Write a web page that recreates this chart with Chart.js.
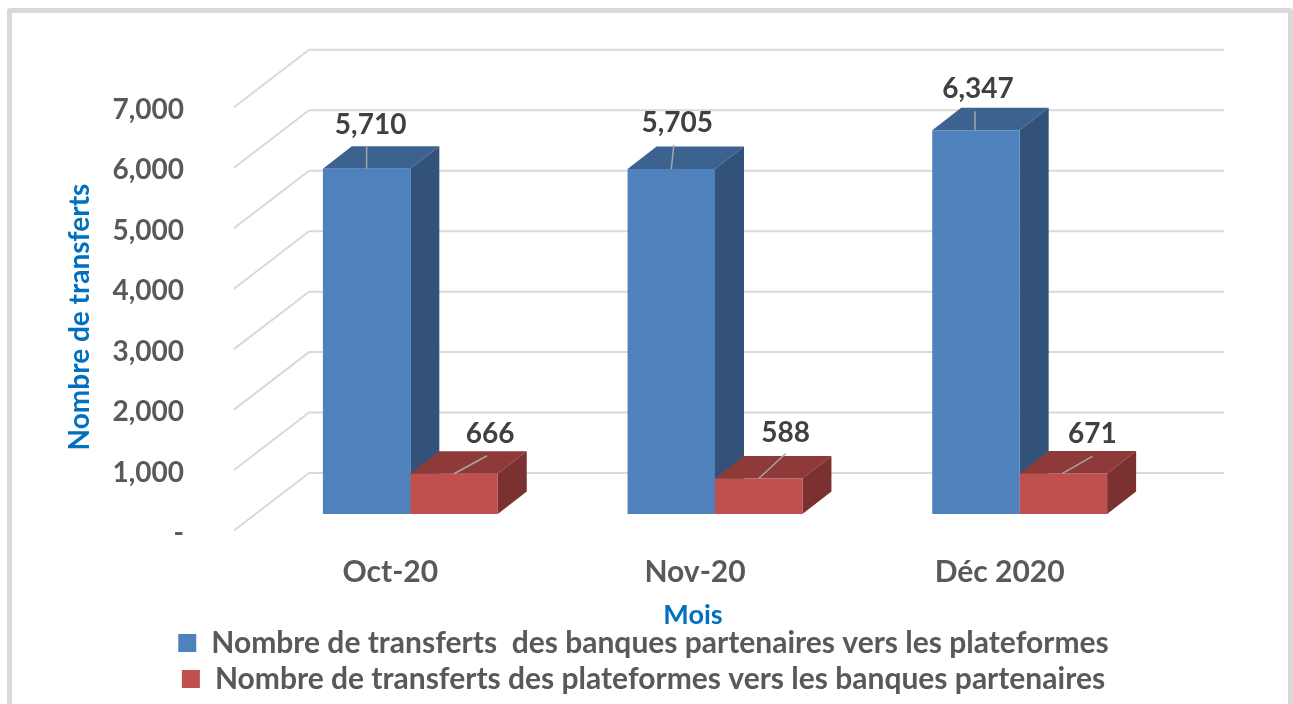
<!DOCTYPE html>
<html>
<head>
<meta charset="utf-8">
<script src="https://cdn.jsdelivr.net/npm/chart.js@4"></script>
<style>
  html, body { margin: 0; background: #fff; overflow: hidden; }
  #frame { position: absolute; left: 7px; top: 8px; width: 1276px; height: 720px; border: 5px solid #d9d9d9; border-radius: 3px; }
  #wrap { position: absolute; left: 0; top: 0; width: 1293px; height: 704px; }
</style>
</head>
<body>
<div id="frame"></div>
<div id="wrap"><canvas id="chart"></canvas></div>
<script>
const months = ['Oct-20', 'Nov-20', 'Déc 2020'];
const banksToPlatforms = [5710, 5705, 6347];
const platformsToBanks = [666, 588, 671];
const yTickLabels = ['-', '1,000', '2,000', '3,000', '4,000', '5,000', '6,000', '7,000'];
const seriesNames = [
  'Nombre de transferts  des banques partenaires vers les plateformes',
  'Nombre de transferts des plateformes vers les banques partenaires'
];

const FONT = 'Lato, Carlito, sans-serif';
const faceColors = [
  { front: '#4f81bd', top: '#3c6290', side: '#325279' },
  { front: '#c0504d', top: '#8e3a38', side: '#7b312f' }
];
const DEPTH_X = 29, DEPTH_Y = 22.5;

// hand placed value labels and their leader lines, relative to the bar's top centre
const labelPlacement = [
  [{ dx: 4, dy: -44, x1: 0, y1: -23, x2: 0, y2: 0 },
   { dx: 6, dy: -46, x1: 2.5, y1: -24, x2: 0, y2: 0 },
   { dx: 2, dy: -41, x1: -1, y1: -19, x2: -1, y2: 0 }],
  [{ dx: 36, dy: -40, x1: 33, y1: -18, x2: 0, y2: 0 },
   { dx: 27, dy: -45, x1: 27, y1: -25, x2: 0, y2: 0 },
   { dx: 29, dy: -39, x1: 29, y1: -17, x2: -1, y2: 0 }]
];

function face(ctx, color, pts) {
  ctx.fillStyle = color;
  ctx.beginPath();
  pts.forEach((p, i) => i ? ctx.lineTo(p[0], p[1]) : ctx.moveTo(p[0], p[1]));
  ctx.closePath();
  ctx.fill();
}

function drawText(ctx, text, x, y, font, color, angle) {
  ctx.save();
  ctx.translate(x, y);
  ctx.rotate(angle || 0);
  ctx.font = font;
  ctx.fillStyle = color;
  ctx.textAlign = 'center';
  ctx.textBaseline = 'middle';
  ctx.fillText(text, 0, 0);
  ctx.restore();
}

const perspective = {
  id: 'perspective',
  beforeDatasetsDraw(chart) {
    const { ctx, chartArea, scales } = chart;
    // wall and floor lines, same scale as the bars but pushed back/forward
    ctx.save();
    ctx.strokeStyle = '#d9d9d9';
    ctx.lineWidth = 2;
    scales.y.ticks.forEach(t => {
      const y = scales.y.getPixelForValue(t.value);
      ctx.beginPath();
      ctx.moveTo(chartArea.left - 24, y + 16.5);
      ctx.lineTo(chartArea.left + 51, y - 41);
      ctx.lineTo(chartArea.right + 52, y - 41);
      ctx.stroke();
    });
    ctx.restore();
    // top and side of each bar
    chart.data.datasets.forEach((ds, i) => {
      chart.getDatasetMeta(i).data.forEach(bar => {
        const l = bar.x - bar.width / 2, r = bar.x + bar.width / 2;
        const c = faceColors[i];
        face(ctx, c.top, [[l, bar.y], [r, bar.y], [r + DEPTH_X, bar.y - DEPTH_Y], [l + DEPTH_X, bar.y - DEPTH_Y]]);
        face(ctx, c.side, [[r, bar.y], [r + DEPTH_X, bar.y - DEPTH_Y], [r + DEPTH_X, bar.base - DEPTH_Y], [r, bar.base]]);
      });
    });
  },
  afterDatasetsDraw(chart) {
    const { ctx } = chart;
    chart.data.datasets.forEach((ds, i) => {
      chart.getDatasetMeta(i).data.forEach((bar, j) => {
        const p = labelPlacement[i][j];
        ctx.strokeStyle = '#a6a6a6';
        ctx.lineWidth = 1.5;
        ctx.beginPath();
        ctx.moveTo(bar.x + p.x1, bar.y + p.y1);
        ctx.lineTo(bar.x + p.x2, bar.y + p.y2);
        ctx.stroke();
        drawText(ctx, ds.data[j].toLocaleString('en-US'), bar.x + p.dx, bar.y + p.dy, 'bold 28px ' + FONT, '#404040');
      });
    });
  },
  afterDraw(chart) {
    const { ctx } = chart;
    // axis titles sit off-centre in the original, so placed by hand
    drawText(ctx, 'Nombre de transferts', 80, 317, 'bold 28px ' + FONT, '#0070c0', -Math.PI / 2);
    drawText(ctx, 'Mois', 693, 615, 'bold 27px ' + FONT, '#0070c0');
  }
};

new Chart(document.getElementById('chart'), {
  type: 'bar',
  data: {
    labels: months,
    datasets: [
      { label: seriesNames[0], data: banksToPlatforms, backgroundColor: faceColors[0].front, yAxisID: 'y' },
      { label: seriesNames[1], data: platformsToBanks, backgroundColor: faceColors[1].front, yAxisID: 'y' }
    ]
  },
  options: {
    responsive: true,
    maintainAspectRatio: false,
    animation: false,
    layout: { padding: { top: 88.6, right: 6, bottom: 0, left: 0 } },
    datasets: { bar: { barPercentage: 1, categoryPercentage: 0.574 } },
    scales: {
      x: {
        grid: { display: false },
        border: { display: false },
        ticks: { color: '#595959', font: { family: FONT, size: 30, weight: 'bold' }, padding: 32, labelOffset: -20, maxRotation: 0 },
        afterFit(scale) { scale.height = 108; }
      },
      y: {
        min: 0,
        max: 7000,
        grid: { display: false, drawTicks: false },
        border: { display: false },
        ticks: {
          stepSize: 1000,
          color: '#595959',
          font: { family: FONT, size: 28, weight: 'bold' },
          padding: 74,
          labelOffset: 19,
          callback: (v, i) => yTickLabels[i]
        },
        afterFit(scale) { scale.width = 258; }
      },
      // empty axis only reserves the room right of the plot, so the legend can stay page-centred
      yRight: {
        position: 'right',
        grid: { display: false, drawTicks: false },
        border: { display: false },
        ticks: { display: false },
        afterFit(scale) { scale.width = 115; }
      }
    },
    plugins: {
      tooltip: { enabled: false },
      legend: {
        position: 'bottom',
        labels: {
          color: '#595959',
          font: { family: FONT, size: 30, weight: 'bold' },
          boxWidth: 18,
          boxHeight: 18,
          padding: 6
        }
      }
    }
  },
  plugins: [perspective]
});
</script>
</body>
</html>
